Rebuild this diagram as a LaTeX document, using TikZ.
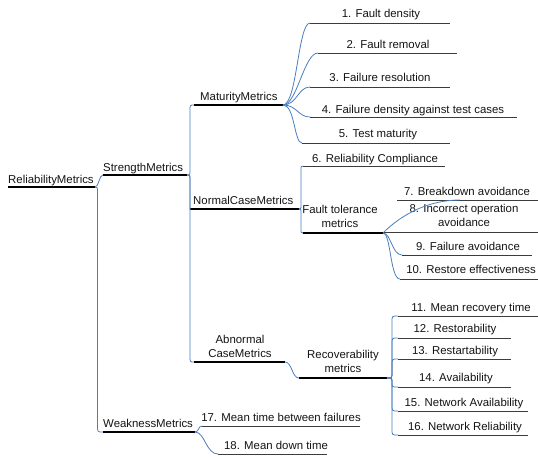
\documentclass[tikz,border=0pt]{standalone}
\usepackage{fontspec}
\setmainfont{Liberation Sans}
\usetikzlibrary{calc}
\definecolor{conncol}{RGB}{74,126,192}
\definecolor{leafcol}{RGB}{60,60,60}
\definecolor{txtcol}{RGB}{20,20,20}
\tikzset{
  lbl/.style={font=\fontsize{11.4}{13.8}\selectfont, text=txtcol, inner sep=0pt, anchor=base},
  lblc/.style={lbl, align=center},
  thickline/.style={line width=2.6pt, black},
  leafline/.style={line width=0.9pt, leafcol},
  conn/.style={line width=0.8pt, conncol}
}
\newcommand\scurve[4]{\draw[conn] (#1) .. controls +(#3,0) and +(-#4,0) .. (#2);}
\newcommand\brk[4]{\draw[conn] let \p1=(#1), \p2=(#2), \n1={sign(\y2-\y1)} in
  (\p1) .. controls ({\x1+#3},{\y1}) .. ({\x1+#3},{\y1+(\n1)*#4})
  -- ({\x1+#3},{\y2-(\n1)*#4}) .. controls ({\x1+#3},{\y2}) .. (\p2);}
\begin{document}
\begin{tikzpicture}[x=1pt,y=-1pt]
\useasboundingbox[fill=white] (0,0) rectangle (538,456);
% ---- internal nodes ----
\node[lbl, anchor=base west] (rel) at (8,183) {ReliabilityMetrics};
\coordinate (relL) at (8,187); \coordinate (relR) at (95,187);
\node[lbl, anchor=base west] (str) at (103,171) {StrengthMetrics};
\coordinate (strL) at (103,175); \coordinate (strR) at (187,175);
\node[lbl, anchor=base west] (mat) at (200,100) {MaturityMetrics};
\coordinate (matL) at (194,105); \coordinate (matR) at (283,105);
\node[lbl, anchor=base west] (nor) at (193,204) {NormalCaseMetrics};
\coordinate (norL) at (190,209); \coordinate (norR) at (299,209);
\node[lblc, anchor=base] (abn) at (240,357) {Abnormal\\CaseMetrics};
\coordinate (abnL) at (194,362); \coordinate (abnR) at (285,362);
\node[lblc, anchor=base] (ftm) at (340,227) {Fault tolerance\\metrics};
\coordinate (ftmL) at (303,233); \coordinate (ftmR) at (383,233);
\node[lblc, anchor=base] (rec) at (343,372) {Recoverability\\metrics};
\coordinate (recL) at (299,378); \coordinate (recR) at (387,378);
\node[lbl, anchor=base west] (wea) at (103,427) {WeaknessMetrics};
\coordinate (weaL) at (103,432); \coordinate (weaR) at (195,432);
% ---- leaves ----
\node[lbl] (l1) at (381,17) {1. Fault density};
\coordinate (l1L) at (310,23); \coordinate (l1R) at (450,23);
\node[lbl] (l2) at (388,48) {2. Fault removal};
\coordinate (l2L) at (318,53); \coordinate (l2R) at (457,53);
\node[lbl] (l3) at (380,81) {3. Failure resolution};
\coordinate (l3L) at (310,87); \coordinate (l3R) at (450,87);
\node[lbl] (l4) at (413,113) {4. Failure density against test cases};
\coordinate (l4L) at (310,117); \coordinate (l4R) at (517,117);
\node[lbl] (l5) at (378,137) {5. Test maturity};
\coordinate (l5L) at (302,143); \coordinate (l5R) at (450,143);
\node[lbl] (l6) at (375,162) {6. Reliability Compliance};
\coordinate (l6L) at (303,166); \coordinate (l6R) at (445,166);
\node[lbl] (l7) at (467,195) {7. Breakdown avoidance};
\coordinate (l7L) at (397,200); \coordinate (l7R) at (538,200);
\coordinate (l7J) at (460,200);
\node[lblc] (l8) at (464,226) {8. Incorrect operation\\avoidance};
\coordinate (l8L) at (383,232); \coordinate (l8R) at (538,232);
\node[lbl] (l9) at (468,250) {9. Failure avoidance};
\coordinate (l9L) at (402,255); \coordinate (l9R) at (532,255);
\node[lbl] (l10) at (471,273) {10. Restore effectiveness};
\coordinate (l10L) at (400,279); \coordinate (l10R) at (538,279);
\node[lbl] (l11) at (471,311) {11. Mean recovery time};
\coordinate (l11L) at (398,316); \coordinate (l11R) at (538,316);
\node[lbl] (l12) at (455,332) {12. Restorability};
\coordinate (l12L) at (398,338); \coordinate (l12R) at (511,338);
\node[lbl] (l13) at (455,354) {13. Restartability};
\coordinate (l13L) at (398,359); \coordinate (l13R) at (511,359);
\node[lbl] (l14) at (456,381) {14. Availability};
\coordinate (l14L) at (398,387); \coordinate (l14R) at (511,387);
\node[lbl] (l15) at (464,406) {15. Network Availability};
\coordinate (l15L) at (398,411); \coordinate (l15R) at (528,411);
\node[lbl] (l16) at (465,430) {16. Network Reliability};
\coordinate (l16L) at (398,435); \coordinate (l16R) at (528,435);
\node[lbl] (l17) at (281,421) {17. Mean time between failures};
\coordinate (l17L) at (202,426); \coordinate (l17R) at (360,426);
\node[lbl] (l18) at (276,449) {18. Mean down time};
\coordinate (l18L) at (218,454); \coordinate (l18R) at (327,454);
% ---- underlines ----
\foreach \n in {l1,l2,l3,l4,l5,l6,l7,l8,l9,l10,l11,l12,l13,l14,l15,l16,l17,l18}
  \draw[leafline] (\n L) -- (\n R);
\foreach \n in {rel,str,mat,nor,abn,ftm,rec,wea}
  \draw[thickline] (\n L) -- (\n R);
% ---- connectors ----
\scurve{relR}{strL}{4}{4}
\brk{relR}{weaL}{2.5}{6}
\brk{strR}{matL}{3}{6}
\brk{strR}{norL}{3}{5}
\brk{strR}{abnL}{3}{6}
\scurve{matR}{l1L}{14}{12}
\scurve{matR}{l2L}{14}{14}
\scurve{matR}{l3L}{14}{12}
\scurve{matR}{l4L}{14}{12}
\scurve{matR}{l5L}{12}{8}
\brk{norR}{l6L}{2}{5}
\brk{norR}{ftmL}{2}{5}
\draw[conn] (ftmR) .. controls +(20,-20) and +(-30,0) .. (l7J);
\scurve{ftmR}{l9L}{8}{10}
\scurve{ftmR}{l10L}{8}{10}
\scurve{abnR}{recL}{7}{7}
\brk{recR}{l11L}{5}{6}
\brk{recR}{l12L}{5}{6}
\brk{recR}{l13L}{5}{6}
\brk{recR}{l14L}{5}{4}
\brk{recR}{l15L}{5}{6}
\brk{recR}{l16L}{5}{6}
\scurve{weaR}{l17L}{4}{4}
\scurve{weaR}{l18L}{10}{12}
\end{tikzpicture}
\end{document}
